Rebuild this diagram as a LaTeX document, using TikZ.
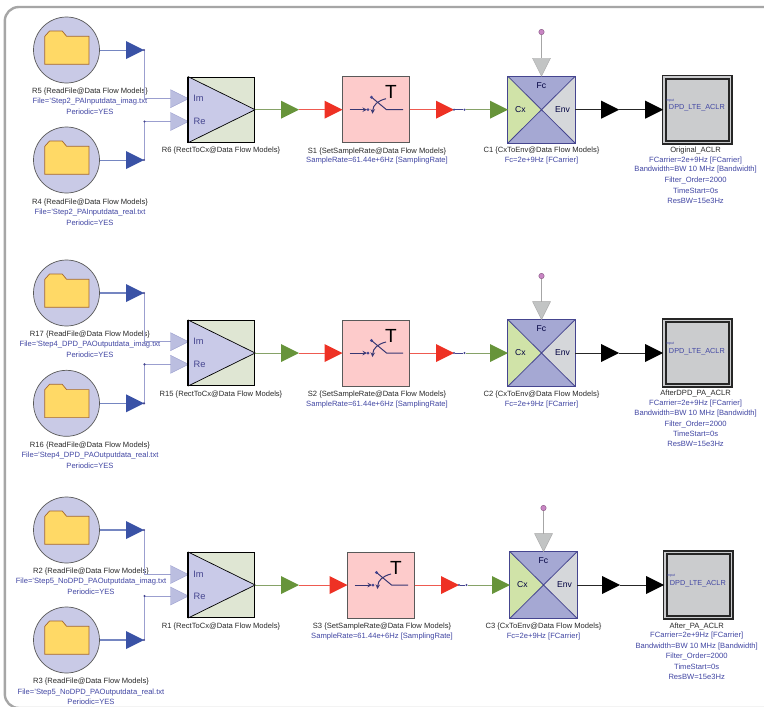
\documentclass[tikz,border=0pt]{standalone}
\usepackage{fontspec}
\setmainfont{Liberation Sans}
\usetikzlibrary{shapes.geometric}
\definecolor{lblue}{HTML}{4146A3}
\definecolor{ltxt}{HTML}{2A2A2A}
\definecolor{srcfill}{HTML}{C9CAE6}
\definecolor{pinblue}{HTML}{3A52A6}
\definecolor{pingreen}{HTML}{67943A}
\definecolor{pinred}{HTML}{EE3124}
\definecolor{wireblue}{HTML}{9B9FCF}
\definecolor{wirered}{HTML}{EE5A50}
\definecolor{wiregreen}{HTML}{86A267}
\definecolor{cxgreen}{HTML}{D0E3A8}
\definecolor{cxpurple}{HTML}{A5A8D3}
\definecolor{cxgray}{HTML}{D5D7DA}
\definecolor{edgeblue}{HTML}{45458F}
\definecolor{outfill}{HTML}{CBCCCE}
\definecolor{folderyel}{HTML}{FFD966}
\definecolor{folderedge}{HTML}{A5682F}
\definecolor{rfill}{HTML}{DFE6D3}
\definecolor{rtri}{HTML}{C9CAE8}
\definecolor{sfill}{HTML}{FDCBCB}
\definecolor{pinpink}{HTML}{C985C4}
\definecolor{hatchblue}{HTML}{BBBEE0}
\definecolor{hatchgray}{HTML}{C2C4C4}
\tikzset{
  blk/.style={font=\fontsize{7.6}{9}\selectfont,text=ltxt,inner sep=0pt,anchor=center},
  blu/.style={font=\fontsize{7.6}{9}\selectfont,text=lblue,inner sep=0pt,anchor=center},
  pin/.style={isosceles triangle,isosceles triangle stretches,minimum width=18,minimum height=18,inner sep=0pt,outer sep=0pt,anchor=west,fill=#1},
  hatchpin/.style={isosceles triangle,isosceles triangle stretches,minimum width=18,minimum height=18,inner sep=0pt,outer sep=0pt,anchor=west,fill=#1,draw=wireblue,line width=.4pt},
  srcnode/.style={circle,minimum size=66,inner sep=0pt,fill=srcfill,draw=black!65,line width=.7pt},
  folder/.style={fill=folderyel,draw=folderedge,line width=.7pt},
  wdot/.style={circle,minimum size=2.4,inner sep=0pt,fill=edgeblue},
  rblock/.style={rectangle,minimum width=66.5,minimum height=65.5,inner sep=0pt,fill=rfill,draw=black,line width=.8pt},
  sblock/.style={rectangle,minimum width=66.5,minimum height=66,inner sep=0pt,fill=sfill,draw=black!65,line width=1pt},
  cblock/.style={rectangle,minimum width=66.5,minimum height=66,inner sep=0pt,draw=edgeblue,line width=.9pt},
  outblock/.style={rectangle,minimum width=69.5,minimum height=68.5,inner sep=0pt,fill=outfill,draw=black!85,line width=1.8pt},
  inner/.style={draw=black!85,line width=1.8pt},
  porttxt/.style={font=\fontsize{9.3}{10}\selectfont,text=edgeblue,inner sep=0pt},
  cxtxt/.style={font=\fontsize{8.6}{10}\selectfont,text=black!75!blue,inner sep=0pt},
  srcwire/.style={line width=#1,draw=pinblue!70!white},
  dwire/.style={line width=1pt,draw=wireblue},
  redwire/.style={line width=1pt,draw=wirered},
  grnwire/.style={line width=1pt,draw=wiregreen},
  blkwire/.style={line width=.9pt,draw=black!85},
  fcdot/.style={circle,minimum size=5.4,inner sep=0pt,fill=pinpink,draw=pinpink!70!black,line width=.5pt},
  sw/.style={draw=edgeblue!80!black,line width=1pt},
}
% #1 name, #2 cy, #3 wire width, #4 lx, #5,#6,#7 label y, #8 label, #9 file
\newcommand{\Src}[9]{%
  \node[srcnode] (#1) at (66.5,#2) {};
  \draw[folder] (#1.center) ++(-21.7,-13.7) -- ++(4.7,-5.3) -- ++(12.7,0) -- ++(4.4,5.3) -- ++(22.3,0) -- ++(0,28) -- ++(-44.1,0) -- cycle;
  \node[pin=pinblue] (#1p) at (126,#2) {};
  \draw[srcwire=#3] (#1.east) -- (#1p.west);
  \node[blk] (#1a) at (#4,#5) {#8};
  \node[blu] (#1b) at (#4,#6) {#9};
  \node[blu] (#1c) at (#4,#7) {Periodic=YES};
}
% #1 name, #2 cy, #3 top src, #4 bottom src, #5 im y, #6 re y, #7 label y, #8 label
\newcommand{\RBlk}[8]{%
  \node[hatchpin=hatchblue] (#1i) at (170.5,#5) {};
  \node[hatchpin=hatchblue] (#1j) at (170.5,#6) {};
  \draw[dwire] (#1i.west) -| (#3p.apex);
  \draw[dwire] (#1j.west) -| (#4p.apex);
  \node[wdot] (#1d) at (#3p.apex) {};
  \node[wdot] (#1e) at (#4p.apex) {};
  \node[wdot] (#1f) at (144.5,#6) {};
  \node[rblock] (#1) at (221.5,#2) {};
  \fill[rtri] (#1.north west) -- (#1.east) -- (#1.south west) -- cycle;
  \draw[line width=.7pt] (#1.north west) -- (#1.east) -- (#1.south west);
  \draw[line width=1.4pt] (#1.north west) -- (#1.south west);
  \node[porttxt] (#1m) at (198.5,#5) {Im};
  \node[porttxt] (#1n) at (199.5,#6) {Re};
  \node[blk] (#1l) at (221,#7) {#8};
  \node[pin=pingreen] (#1g) at (281,#2) {};
  \draw[grnwire] (#1.east) -- (#1g.west);
}
% #1 name, #2 cx, #3 cy, #4 input source, #5 label x, #6 label y, #7 rate y, #8 label
\newcommand{\SBlk}[8]{%
  \node[sblock] (#1) at (#2,#3) {};
  \node[pin=pinred] (#1a) at (#2-51.5,#3) {};
  \draw[redwire] (#4g.apex) -- (#1a.west);
  \node[pin=pinred] (#1b) at (#2+60,#3) {};
  \draw[redwire] (#1.east) -- (#1b.west);
  \node[wdot] (#1c) at (#1b.apex) {};
  \draw[sw,-stealth] (#2-26.5,#3) -- (#2-9,#3);
  \fill[edgeblue] (#2-8,#3) circle (1.5);
  \draw[sw] (#2+27,#3) -- (#2+10.5,#3) -- (#2-4.5,#3-12.5);
  \fill[edgeblue] (#2-4.5,#3-12.5) circle (1.6);
  \draw[sw,-stealth] (#2+10,#3-11) .. controls (#2+2,#3-9) and (#2-3,#3-5) .. (#2-3.5,#3+4);
  \node[font=\fontsize{19}{20}\selectfont,inner sep=0pt] (#1t) at (#2+15,#3-17.5) {T};
  \node[blk] (#1l) at (#5,#6) {#8};
  \node[blu] (#1r) at (#5,#7) {SampleRate=61.44e+6Hz [SamplingRate]};
}
% #1 name, #2 cx, #3 cy, #4 from S, #5 label y, #6 fc y, #7 dot y, #8 label
\newcommand{\CBlk}[8]{%
  \node[cblock] (#1) at (#2,#3) {};
  \fill[cxpurple] (#1.north west) rectangle (#1.south east);
  \fill[cxgreen] (#1.north west) -- (#1.center) -- (#1.south west) -- cycle;
  \fill[cxgray] (#1.north east) -- (#1.center) -- (#1.south east) -- cycle;
  \draw[edgeblue,line width=.9pt] (#1.north west) rectangle (#1.south east);
  \draw[edgeblue,line width=.8pt] (#1.north west) -- (#1.south east) (#1.north east) -- (#1.south west);
  \node[cxtxt] (#1x) at (#2-21,#3) {Cx};
  \node[cxtxt] (#1y) at (#2+21,#3) {Env};
  \node[cxtxt] (#1z) at (#2,#3-24.5) {Fc};
  \node[pin=pingreen] (#1g) at (#2-51.5,#3) {};
  \node[wdot] (#1q) at (#2-77,#3) {};
  \draw[line width=.8pt,edgeblue] (#4c) -- (#1q);
  \draw[grnwire] (#1q) -- (#1g.west);
  \node[fcdot] (#1o) at (#2,#7) {};
  \node[isosceles triangle,isosceles triangle stretches,shape border rotate=-90,minimum width=18,minimum height=18,inner sep=0pt,outer sep=0pt,anchor=apex,fill=hatchgray,draw=black!35,line width=.4pt] (#1u) at (#1.north) {};
  \draw[line width=1pt,draw=black!35] (#1o) -- (#1u.north);
  \node[blk] (#1l) at (#2,#5) {#8};
  \node[blu] (#1f) at (#2,#6) {Fc=2e+9Hz [FCarrier]};
}
% #1 name, #2 cx, #3 cy, #4 from C
\newcommand{\OutBlk}[4]{%
  \node[outblock] (#1) at (#2,#3) {};
  \draw[inner] (#2-31.5,#3-31) rectangle (#2+31.5,#3+31);
  \node[pin=black] (#1a) at (#2-96,#3) {};
  \node[pin=black] (#1b) at (#2-52,#3) {};
  \draw[blkwire] (#4.east) -- (#1a.west);
  \draw[blkwire] (#1a.apex) -- (#1b.west);
  \node[font=\fontsize{7.3}{8}\selectfont,text=lblue,inner sep=0pt] (#1t) at (#2-0.3,#3-1.7) {DPD\_LTE\_ACLR};
  \node[font=\fontsize{3.6}{4}\selectfont,text=lblue,inner sep=0pt] (#1i) at (#2-27,#3-9) {input};
}
% #1 name, #2 x, #3-#8 y, #9 title
\newcommand{\OutTxt}[9]{%
  \node[blk] (#1a) at (#2,#3) {#9};
  \node[blu] (#1b) at (#2,#4) {FCarrier=2e+9Hz [FCarrier]};
  \node[blu] (#1c) at (#2,#5) {Bandwidth=BW 10 MHz [Bandwidth]};
  \node[blu] (#1d) at (#2,#6) {Filter\_Order=2000};
  \node[blu] (#1e) at (#2,#7) {TimeStart=0s};
  \node[blu] (#1f) at (#2,#8) {ResBW=15e3Hz};
}
\newcommand{\RF}[1]{#1 \{ReadFile@Data Flow Models\}}
\begin{document}
\begin{tikzpicture}[x=1pt,y=-1pt]
\useasboundingbox (0,0) rectangle (764,707);
\clip (0,0) rectangle (764,707);
\fill[white] (0,0) rectangle (764,707);
\draw[draw=black!35,line width=2.4pt,rounded corners=14] (4.8,7) rectangle (778,708);
% Row 1
\Src{R5}{50}{.8pt}{90}{92}{102}{112}{\RF{R5}}{File='Step2\_PAInputdata\_imag.txt}
\Src{R4}{160}{.8pt}{90}{202.7}{212.5}{222.5}{\RF{R4}}{File='Step2\_PAInputdata\_real.txt}
\RBlk{R6}{109.7}{R5}{R4}{98.7}{121.5}{151}{R6 \{RectToCx@Data Flow Models\}}
\SBlk{S1}{376}{109.7}{R6}{377}{151.7}{161}{S1 \{SetSampleRate@Data Flow Models\}}
\CBlk{C1}{541.5}{109.7}{S1}{151}{161}{32}{C1 \{CxToEnv@Data Flow Models\}}
\OutBlk{O1}{697.2}{109.7}{C1}
\OutTxt{O1t}{695.6}{150.7}{160.7}{170}{180.3}{190.7}{201}{Original\_ACLR}
% Row 2
\Src{R17}{293}{1.2pt}{90}{335}{345}{355}{\RF{R17}}{File='Step4\_DPD\_PAOutputdata\_imag.txt}
\Src{R16}{403.3}{1.2pt}{90}{445.7}{456}{466}{\RF{R16}}{File='Step4\_DPD\_PAOutputdata\_real.txt}
\RBlk{R15}{353}{R17}{R16}{341.7}{364.3}{395}{R15 \{RectToCx@Data Flow Models\}}
\SBlk{S2}{376}{353}{R15}{377}{394.3}{404.5}{S2 \{SetSampleRate@Data Flow Models\}}
\CBlk{C2}{541.5}{353}{S2}{394.3}{404.5}{276}{C2 \{CxToEnv@Data Flow Models\}}
\OutBlk{O2}{697.2}{353}{C2}
\OutTxt{O2t}{695.6}{393.3}{403.7}{413.3}{424}{434}{444}{AfterDPD\_PA\_ACLR}
% Row 3
\Src{R2}{530}{1.2pt}{91}{571.7}{582}{591.7}{\RF{R2}}{File='Step5\_NoDPD\_PAOutputdata\_imag.txt}
\Src{R3}{640}{1.2pt}{91}{681.7}{692.7}{702}{\RF{R3}}{File='Step5\_NoDPD\_PAOutputdata\_real.txt}
\RBlk{R1}{585}{R2}{R3}{574.5}{596}{626.7}{R1 \{RectToCx@Data Flow Models\}}
\SBlk{S3}{381}{585}{R1}{382}{627}{637}{S3 \{SetSampleRate@Data Flow Models\}}
\CBlk{C3}{543.5}{585}{S3}{627}{637}{508}{C3 \{CxToEnv@Data Flow Models\}}
\OutBlk{O3}{698.2}{585}{C3}
\OutTxt{O3t}{696.7}{626}{636}{647}{656.5}{666.5}{676.5}{After\_PA\_ACLR}
\end{tikzpicture}
\end{document}
